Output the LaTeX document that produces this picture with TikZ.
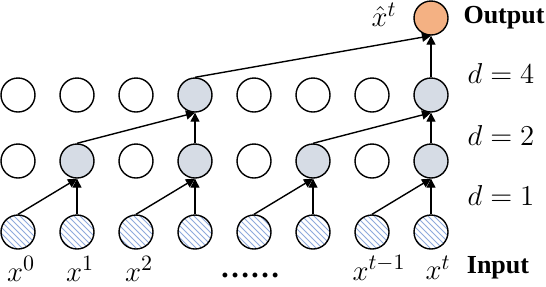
\documentclass[tikz,border=0pt]{standalone}
\usepackage{fontspec}
\setmainfont{Liberation Serif}
\usepackage{tikz}
\usetikzlibrary{arrows.meta,patterns}
\definecolor{nodeAct}{HTML}{D6DCE5}
\definecolor{nodeOut}{HTML}{F4B183}
\definecolor{nodeHatch}{HTML}{8FAADC}
\tikzset{
  unit/.style={circle, draw=black, line width=0.7pt, minimum size=17pt, inner sep=0pt},
  hid/.style={unit, fill=white},
  act/.style={unit, fill=nodeAct},
  inp/.style={unit, pattern=north west lines, pattern color=nodeHatch},
  outp/.style={unit, fill=nodeOut},
  lab/.style={font=\fontsize{15}{17}\selectfont, inner sep=1pt},
  side/.style={font=\fontsize{13}{15}\selectfont\bfseries, inner sep=1pt},
}

\begin{document}
\begin{tikzpicture}[x=0.5pt, y=-0.5pt,
  link/.style={line width=0.7pt, -{Triangle[length=4.5pt, width=4.5pt]}}]
\useasboundingbox (0,0) rectangle (546,286);
% layers
\foreach \i/\sa/\sb in {0/hid/hid,1/act/hid,2/hid/hid,3/act/act,4/hid/hid,5/act/hid,6/hid/hid,7/act/act}{
  \node[inp] (in\i) at ({18+59*\i},232) {};
  \node[\sa] (lo\i) at ({18+59*\i},161) {};
  \node[\sb] (hi\i) at ({18+59*\i},95) {};
}
\node[outp] (out) at (431,18) {};
% dilated links
\foreach \a/\b in {0/1,1/1,2/3,3/3,4/5,5/5,6/7,7/7}
  \draw[link] (in\a.north) -- (lo\b.south);
\foreach \a/\b in {1/3,3/3,5/7,7/7}
  \draw[link] (lo\a.north) -- (hi\b.south);
\foreach \a in {3,7}
  \draw[link] (hi\a.north) -- (out.south);
% labels
\node[lab] (x0) at (21,269) {$x^0$};
\node[lab] (x1) at (80,269) {$x^1$};
\node[lab] (x2) at (139,269) {$x^2$};
\node[lab, inner sep=0pt] (dots) at (250,275) {\textbf{……}};
\node[lab] (xt1) at (379,268) {$x^{t-1}$};
\node[lab] (xt) at (438,268) {$x^t$};
\node[lab, inner sep=0pt] (xhat) at (384,15) {$\hat{x}^t$};
\node[side] (input) at (498,268) {Input};
\node[side] (output) at (504,18) {Output};
\node[lab] (d1) at (501,195) {$d=1$};
\node[lab] (d2) at (501,135) {$d=2$};
\node[lab] (d4) at (501,73) {$d=4$};
\end{tikzpicture}
\end{document}
